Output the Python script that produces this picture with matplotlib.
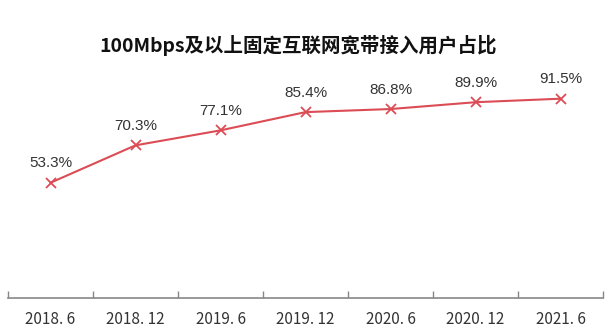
import matplotlib
matplotlib.use("Agg")
import matplotlib.pyplot as plt
import numpy as np

categories = ["2018. 6", "2018. 12", "2019. 6", "2019. 12", "2020. 6", "2020. 12", "2021. 6"]
values = [53.3, 70.3, 77.1, 85.4, 86.8, 89.9, 91.5]
labels = ["53.3%", "70.3%", "77.1%", "85.4%", "86.8%", "89.9%", "91.5%"]
title = "100Mbps及以上固定互联网宽带接入用户占比"

plt.rcParams['font.family'] = ['Noto Sans CJK SC', 'DejaVu Sans']

fig = plt.figure(figsize=(6.15, 3.35), dpi=100)
ax = fig.add_axes([8/615, 1 - 298/335, 595/615, 218/335])
x = np.arange(len(categories))
ax.plot(x, values, color="#dc4c55", linewidth=1.5, marker="x", markersize=7.5,
        markeredgewidth=1.3, markeredgecolor="#dc4c55", zorder=3)
for xi, v, lab in zip(x, values, labels):
    ax.annotate(lab, (xi, v), xytext=(0, 9), textcoords="offset points",
                ha="center", va="bottom", fontsize=11, color="#333333",
                family=["Liberation Sans", "DejaVu Sans"])
ax.set_xlim(-0.5, len(categories) - 0.5)
ax.set_ylim(0.9, 100)
ax.set_xticks(x)
ax.set_xticklabels(categories, fontsize=11, color="#333333")
ax.set_xticks(np.arange(-0.5, len(categories)), minor=True)
ax.tick_params(axis="x", which="major", length=0, pad=9)
ax.tick_params(axis="x", which="minor", length=5, direction="in", color="#888888", width=1)
ax.set_yticks([])
for s in ["top", "right", "left"]:
    ax.spines[s].set_visible(False)
ax.spines["bottom"].set_color("#888888")
ax.spines["bottom"].set_linewidth(1.2)
fig.text(0.485, 1 - 45/335, title, ha="center", va="center", fontsize=14,
         fontweight="bold", color="#111111")
fig.savefig("out.png", dpi=100, facecolor="white")
